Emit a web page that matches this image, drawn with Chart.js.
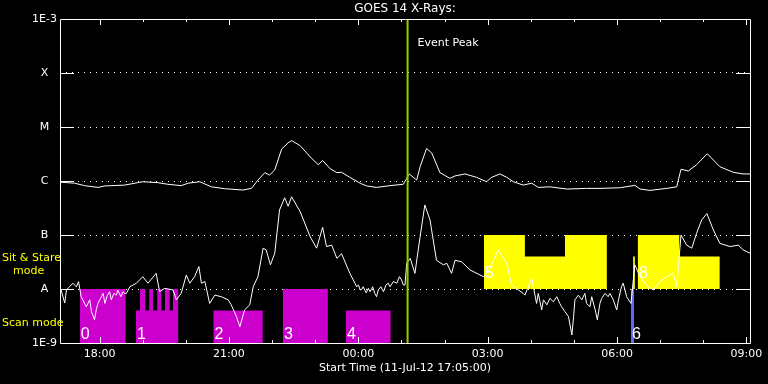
<!DOCTYPE html>
<html>
<head>
<meta charset="utf-8">
<title>GOES 14 X-Rays</title>
<script src="https://cdn.jsdelivr.net/npm/chart.js@4.4.1/dist/chart.umd.min.js"></script>
<style>
  html, body { margin: 0; padding: 0; background: #000; }
  #wrap { width: 768px; height: 384px; position: relative; }
</style>
</head>
<body>
<div id="wrap"><canvas id="goes"></canvas></div>
<script>
// x values are hours after the start time (11-Jul-12 17:05:00)

// 1-8 A channel (upper curve)
const longTimes = [0.02, 0.34, 0.57, 0.88, 1.04, 1.50, 1.92, 2.27, 2.50, 2.81,
    2.97, 3.24, 3.51, 3.82, 4.24, 4.44, 4.59, 4.75, 4.86, 4.98,
    5.14, 5.29, 5.37, 5.57, 5.80, 5.99, 6.09, 6.26, 6.42, 6.53,
    6.72, 6.96, 7.11, 7.34, 7.65, 7.96, 8.04, 8.10, 8.27, 8.35,
    8.50, 8.62, 8.81, 9.04, 9.16, 9.39, 9.66, 9.89, 10.01, 10.20,
    10.36, 10.51, 10.74, 10.94, 11.09, 11.36, 11.75, 12.21, 12.52, 12.99,
    13.33, 13.45, 13.68, 14.07, 14.30, 14.40, 14.57, 14.76, 15.01, 15.30,
    15.61, 15.84, 16.0];
const longFlux = [9.5e-7, 9.1e-7, 8.2e-7, 7.6e-7, 8.1e-7, 8.4e-7, 9.7e-7, 9.3e-7, 8.7e-7, 8.2e-7,
    9.1e-7, 9.7e-7, 7.8e-7, 7.2e-7, 6.8e-7, 7.3e-7, 1.04e-6, 1.43e-6, 1.29e-6, 1.6e-6,
    3.9e-6, 5.1e-6, 5.6e-6, 4.5e-6, 2.8e-6, 2.0e-6, 2.4e-6, 1.7e-6, 1.43e-6, 1.45e-6,
    1.17e-6, 9.1e-7, 8.1e-7, 7.6e-7, 8.2e-7, 8.7e-7, 1.12e-6, 1.35e-6, 1.04e-6, 1.84e-6,
    4.0e-6, 3.3e-6, 1.43e-6, 1.12e-6, 1.24e-6, 1.35e-6, 1.17e-6, 9.7e-7, 1.17e-6, 1.35e-6,
    1.17e-6, 9.7e-7, 8.4e-7, 9.1e-7, 7.6e-7, 7.8e-7, 7.1e-7, 7.3e-7, 7.3e-7, 7.5e-7,
    8.3e-7, 7.1e-7, 6.7e-7, 7.3e-7, 7.8e-7, 1.65e-6, 1.53e-6, 2.0e-6, 3.2e-6, 1.84e-6,
    1.45e-6, 1.35e-6, 1.35e-6];

// 0.5-4 A channel (lower curve)
const shortTimes = [
    0.02, 0.11, 0.15, 0.22, 0.30, 0.38, 0.43,
    0.49, 0.61, 0.69, 0.73, 0.80, 0.84, 0.88, 0.94, 1.00, 1.04,
    1.10, 1.15, 1.19, 1.25, 1.31, 1.34, 1.41, 1.46, 1.50, 1.54,
    1.62, 1.77, 1.92, 2.04, 2.23, 2.31, 2.43, 2.62, 2.70, 2.81,
    2.93, 3.01, 3.12, 3.22, 3.28, 3.36, 3.47, 3.59, 3.74, 3.90,
    3.97, 4.09, 4.17, 4.28, 4.40, 4.48, 4.59, 4.71, 4.78, 4.88,
    4.98, 5.09, 5.21, 5.29, 5.37, 5.57, 5.80, 5.95, 6.09, 6.18,
    6.30, 6.42, 6.53, 6.72,
    6.84, 6.88, 6.92, 6.96, 7.00, 7.03, 7.10, 7.15, 7.19, 7.25,
    7.30, 7.34, 7.38, 7.44, 7.50, 7.56, 7.61, 7.65, 7.73, 7.81,
    7.87, 7.92, 7.96, 8.00,
    8.04, 8.12, 8.23, 8.35, 8.46, 8.58, 8.73, 8.89, 8.97, 9.08,
    9.16, 9.31, 9.51, 9.82, 9.97, 10.16, 10.36, 10.47, 10.74, 10.78,
    10.94,
    11.05, 11.09, 11.17, 11.21, 11.29, 11.36, 11.44, 11.52, 11.59, 11.63,
    11.71, 11.79, 11.87, 11.91, 11.94, 12.02, 12.10, 12.17, 12.21, 12.29,
    12.33, 12.41, 12.46, 12.52, 12.56, 12.64, 12.71, 12.75, 12.83, 12.91,
    12.95, 13.02, 13.06, 13.14, 13.24,
    13.33, 13.45, 13.64, 13.76, 13.91, 14.07, 14.22, 14.30, 14.40, 14.53,
    14.65, 14.76, 14.88, 15.00, 15.15, 15.30, 15.54, 15.73, 15.84, 16.0];
const shortFlux = [
    9.9e-9, 5.5e-9, 9.6e-9, 1.1e-8, 1.28e-8, 1.1e-8, 1.37e-8,
    7.2e-9, 4.7e-9, 6.3e-9, 3.8e-9, 2.7e-9, 4.1e-9, 5.4e-9, 6.7e-9, 8.3e-9, 5.4e-9,
    7.7e-9, 8.9e-9, 6.3e-9, 8.3e-9, 7.7e-9, 9.6e-9, 7.2e-9, 8.9e-9, 8.3e-9, 8.3e-9,
    1.1e-8, 1.28e-8, 1.69e-8, 1.28e-8, 1.95e-8, 8.9e-9, 1.03e-8, 9.6e-9, 6.3e-9, 8.3e-9,
    1.82e-8, 1.28e-8, 1.69e-8, 2.6e-8, 1.28e-8, 1.37e-8, 5.4e-9, 7.7e-9, 7.2e-9, 6.3e-9,
    5.1e-9, 3.1e-9, 2.0e-9, 4.1e-9, 5.1e-9, 1.1e-8, 1.69e-8, 5.7e-8, 5.3e-8, 2.8e-8,
    4.6e-8, 2.9e-7, 4.9e-7, 3.4e-7, 5.1e-7, 2.7e-7, 9.3e-8, 5.7e-8, 1.39e-7, 6.1e-8,
    6.5e-8, 3.7e-8, 4.5e-8, 1.95e-8,
    1.28e-8, 1.1e-8, 1.19e-8, 9.6e-9, 9.9e-9, 1.1e-8, 8.5e-9, 1.03e-8, 8.9e-9, 1.1e-8,
    8.3e-9, 7.2e-9, 9.6e-9, 1.1e-8, 8.9e-9, 1.19e-8, 1.28e-8, 1.1e-8, 1.37e-8, 1.28e-8,
    1.69e-8, 1.47e-8, 1.19e-8, 1.19e-8,
    3.0e-8, 3.7e-8, 1.95e-8, 9.3e-8, 3.6e-7, 1.9e-7, 3.4e-8, 2.8e-8, 3.0e-8, 1.95e-8,
    3.4e-8, 3.2e-8, 2.25e-8, 1.69e-8, 2.4e-8, 5.3e-8, 3.0e-8, 1.19e-8, 8.3e-9, 7.7e-9,
    1.58e-8,
    5.4e-9, 8.3e-9, 4.1e-9, 6.3e-9, 5.1e-9, 6.7e-9, 5.8e-9, 7.2e-9, 5.4e-9, 4.7e-9,
    3.8e-9, 3.1e-9, 1.41e-9, 3.1e-9, 6.3e-9, 7.7e-9, 6.3e-9, 8.3e-9, 5.4e-9, 4.7e-9,
    7.2e-9, 4.1e-9, 2.7e-9, 5.4e-9, 6.7e-9, 8.3e-9, 7.2e-9, 8.3e-9, 6.3e-9, 4.1e-9,
    6.3e-9, 1.1e-8, 1.28e-8, 7.2e-9, 5.4e-9,
    2.8e-8, 1.69e-8, 1.1e-8, 9.6e-9, 1.37e-8, 1.69e-8, 1.95e-8, 1.1e-8, 1.0e-7, 6.5e-8,
    5.7e-8, 1.07e-7, 1.9e-7, 2.5e-7, 1.24e-7, 7.0e-8, 6.1e-8, 6.5e-8, 5.3e-8, 4.6e-8];

// observing blocks: level[i] holds from times[i] to times[i+1], null = no block
const scanTimes = [0.46, 1.52, 1.76, 1.855, 1.978, 2.07, 2.157, 2.256, 2.349, 2.435,
    2.544, 2.62, 2.74, 3.56, 4.70, 5.17, 6.21, 6.63, 7.67];
const scanLevels = [1e-8, null, 4e-9, 1e-8, 4e-9, 1e-8, 4e-9, 1e-8, 4e-9, 1e-8,
    4e-9, 1e-8, null, 4e-9, null, 1e-8, null, 4e-9, null];
const blueTimes = [13.24, 13.31];
const blueLevels = [1e-8, null];
const stareTimes = [9.83, 10.78, 11.71, 12.68, 13.29, 13.33, 13.40, 14.36, 15.30];
const stareLevels = [1e-7, 4e-8, 1e-7, null, 4e-8, null, 1e-7, 4e-8, null];

const obsNames = ['0', '1', '2', '3', '4', '5', '6', '8'];
const obsStart = [0.46, 1.76, 3.56, 5.17, 6.63, 9.83, 13.24, 13.40];
const obsMode = ['scan', 'scan', 'scan', 'scan', 'scan', 'stare', 'scan', 'stare'];

const eventPeak = 8.06;

const xTickHours = [0.917, 1.917, 2.917, 3.917, 4.917, 5.917, 6.917, 7.917,
    8.917, 9.917, 10.917, 11.917, 12.917, 13.917, 14.917, 15.917];
const xTickLabels = ['18:00', '', '', '21:00', '', '', '00:00', '', '',
    '03:00', '', '', '06:00', '', '', '09:00'];
const yTickValues = [1e-9, 1e-8, 1e-7, 1e-6, 1e-5, 1e-4, 1e-3];
const yTickLabels = ['1E-9', 'A', 'B', 'C', 'M', 'X', '1E-3'];

function toPoints(xs, ys) {
    return xs.map((x, i) => ({x: x, y: ys[i]}));
}

function stepPoints(times, levels, base) {
    const pts = [];
    for (let i = 0; i < levels.length; i++) {
        if (levels[i] === null) continue;
        pts.push({x: times[i], y: base}, {x: times[i], y: levels[i]},
            {x: times[i + 1], y: levels[i]}, {x: times[i + 1], y: base});
    }
    return pts;
}

const FONT = '"DejaVu Sans", sans-serif';

const goesDecor = {
    id: 'goesDecor',
    afterDatasetsDraw(chart) {
        const {ctx, chartArea: a, scales: {x, y}} = chart;
        ctx.save();
        ctx.strokeStyle = '#fff';
        ctx.lineWidth = 1;
        ctx.beginPath();
        ctx.rect(a.left + 0.5, a.top + 0.5, a.right - a.left, a.bottom - a.top);
        // y ticks, inward on both sides
        for (let i = 1; i < yTickValues.length - 1; i++) {
            const py = Math.round(y.getPixelForValue(yTickValues[i])) + 0.5;
            ctx.moveTo(a.left, py); ctx.lineTo(a.left + 14, py);
            ctx.moveTo(a.right - 14, py); ctx.lineTo(a.right, py);
        }
        // hour ticks, top and bottom
        xTickHours.forEach((h, i) => {
            const px = Math.round(x.getPixelForValue(h)) + 0.5;
            const len = xTickLabels[i] ? 6 : 3;
            ctx.moveTo(px, a.bottom); ctx.lineTo(px, a.bottom - len);
            ctx.moveTo(px, a.top); ctx.lineTo(px, a.top + len);
        });
        ctx.stroke();

        ctx.fillStyle = '#fff';
        ctx.textBaseline = 'middle';
        ctx.textAlign = 'center';
        ctx.font = '12px ' + FONT;
        ctx.fillText('GOES 14 X-Rays:', (a.left + a.right) / 2, 9);

        ctx.textAlign = 'left';
        ctx.font = '11px ' + FONT;
        ctx.fillText('Event Peak', x.getPixelForValue(eventPeak) + 10, a.top + 24);

        ctx.fillStyle = '#ffff00';
        const yMid = y.getPixelForValue(4e-8);
        ctx.fillText('Sit & Stare', 2, yMid + 2);
        ctx.fillText('mode', 13, yMid + 15);
        ctx.fillText('Scan mode', 2, y.getPixelForValue(4e-9) + 13);

        ctx.fillStyle = '#fff';
        ctx.textBaseline = 'alphabetic';
        ctx.font = '16px "Liberation Sans", sans-serif';
        obsNames.forEach((n, i) => {
            const px = x.getPixelForValue(obsStart[i]) + 1;
            const py = obsMode[i] === 'scan' ? a.bottom - 4 : y.getPixelForValue(1e-8) - 11;
            ctx.fillText(n, px, py);
        });
        ctx.restore();
    }
};

Chart.defaults.font.family = FONT;
Chart.defaults.font.size = 11;
Chart.defaults.color = '#fff';

const blockStyle = {borderWidth: 0, borderColor: 'rgba(0,0,0,0)', pointRadius: 0, tension: 0};

new Chart(document.getElementById('goes'), {
    type: 'line',
    data: {
        datasets: [
            Object.assign({label: 'Scan mode', data: stepPoints(scanTimes, scanLevels, 1e-9),
                backgroundColor: '#cc00cc', fill: 'start', order: 5}, blockStyle),
            Object.assign({label: 'Scan 6', data: stepPoints(blueTimes, blueLevels, 1e-9),
                backgroundColor: '#6464ff', fill: 'start', order: 5}, blockStyle),
            Object.assign({label: 'Sit & Stare', data: stepPoints(stareTimes, stareLevels, 1e-8),
                backgroundColor: '#ffff00', fill: {value: 1e-8}, order: 4}, blockStyle),
            {
                label: '1-8 A', data: toPoints(longTimes, longFlux),
                borderColor: '#fff', borderWidth: 1, pointRadius: 0, fill: false, order: 2
            },
            {
                label: '0.5-4 A', data: toPoints(shortTimes, shortFlux),
                borderColor: '#fff', borderWidth: 1, pointRadius: 0, fill: false, order: 2
            },
            {
                label: 'Event Peak', data: [{x: eventPeak, y: 1e-9}, {x: eventPeak, y: 1e-3}],
                borderColor: '#99cc00', borderWidth: 2, pointRadius: 0, fill: false, order: 1
            }
        ]
    },
    options: {
        responsive: true,
        maintainAspectRatio: false,
        animation: false,
        events: [],
        layout: {padding: {top: 19, right: 18, bottom: 0, left: 0}},
        scales: {
            x: {
                type: 'linear',
                min: 0,
                max: 16,
                afterBuildTicks: s => { s.ticks = xTickHours.map(v => ({value: v})); },
                afterFit: s => { s.height = 41; },
                grid: {display: false, drawTicks: false},
                border: {display: false},
                ticks: {
                    autoSkip: false,
                    maxRotation: 0,
                    padding: 5,
                    color: '#fff',
                    callback: (v, i) => xTickLabels[i]
                },
                title: {
                    display: true,
                    text: 'Start Time (11-Jul-12 17:05:00)',
                    color: '#fff',
                    padding: {top: 0, bottom: 9}
                }
            },
            y: {
                type: 'logarithmic',
                min: 1e-9,
                max: 1e-3,
                afterBuildTicks: s => { s.ticks = yTickValues.map(v => ({value: v})); },
                afterFit: s => { s.width = 60; },
                grid: {
                    drawTicks: false,
                    color: c => (c.index > 0 && c.index < yTickValues.length - 1) ? '#fff' : 'rgba(0,0,0,0)'
                },
                border: {display: false, dash: [1, 5]},
                ticks: {
                    autoSkip: false,
                    crossAlign: 'center',
                    padding: 3,
                    color: '#fff',
                    callback: (v, i) => yTickLabels[i]
                }
            }
        },
        plugins: {
            legend: {display: false},
            tooltip: {enabled: false}
        }
    },
    plugins: [goesDecor]
});
</script>
</body>
</html>
